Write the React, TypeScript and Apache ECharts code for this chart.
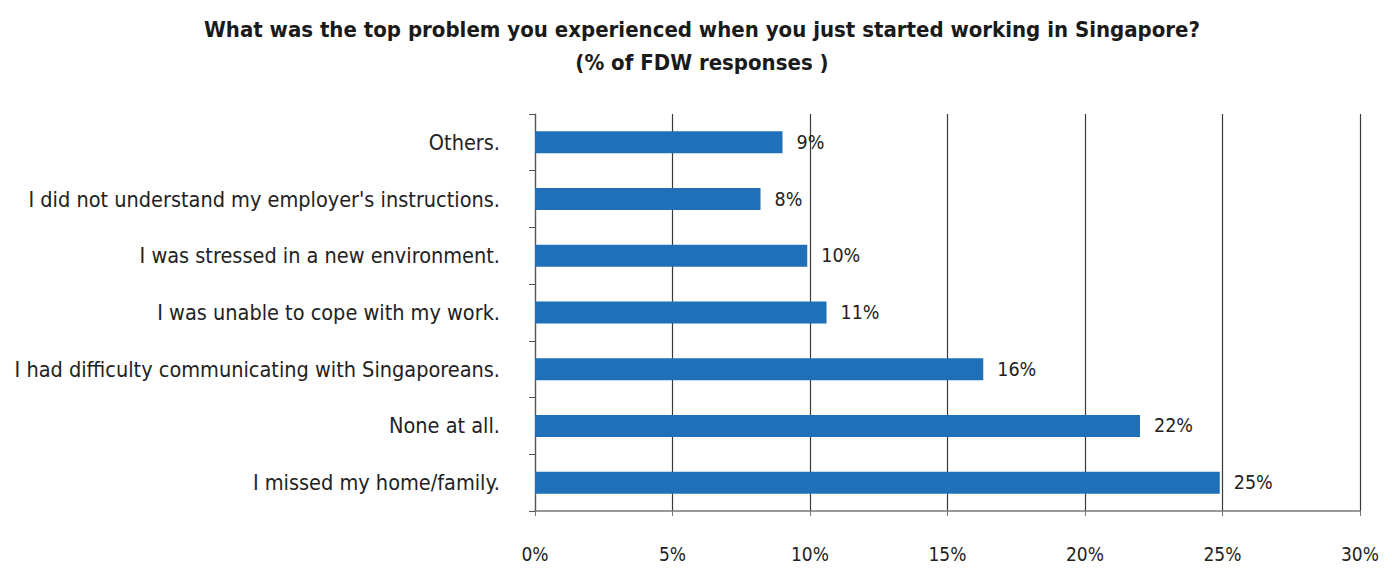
import React, { useEffect, useRef } from "react";
import * as echarts from "echarts";

const categories = [
  "Others.",
  "I did not understand my employer's instructions.",
  "I was stressed in a new environment.",
  "I was unable to cope with my work.",
  "I had difficulty communicating with Singaporeans.",
  "None at all.",
  "I missed my home/family.",
];
const values = [9.0, 8.2, 9.9, 10.6, 16.3, 22.0, 24.9];
const xTicks = [0, 5, 10, 15, 20, 25, 30];

const titleLine1 = "What was the top problem you experienced when you just started working in Singapore?";
const titleLine2 = "(% of FDW responses )";

export default function App() {
  const ref = useRef<HTMLDivElement>(null);
  useEffect(() => {
    if (!ref.current) return;
    const chart = echarts.init(ref.current, null, { renderer: "svg" });
    const font = "'DejaVu Sans Condensed', sans-serif";
    chart.setOption({
      animation: false,
      backgroundColor: "#ffffff",
      title: {
        text: titleLine1 + "\n" + titleLine2,
        left: 697,
        textAlign: "center",
        top: 8,
        textStyle: {
          fontFamily: font,
          fontWeight: "bold",
          fontSize: 22,
          lineHeight: 33,
          color: "#1a1a1a",
        },
      },
      grid: { left: 535, right: 32, top: 114, bottom: 60, containLabel: false },
      xAxis: {
        type: "value",
        min: xTicks[0],
        max: xTicks[xTicks.length - 1],
        interval: 5,
        axisLine: { show: true, lineStyle: { color: "#777", width: 1.5 } },
        axisTick: { show: true, length: 5, lineStyle: { color: "#777" } },
        splitLine: { show: true, lineStyle: { color: "#3a3a3a", width: 1.2 } },
        axisLabel: {
          formatter: "{value}%",
          margin: 33,
          fontFamily: font,
          fontSize: 19,
          color: "#222",
        },
      },
      yAxis: {
        type: "category",
        inverse: true,
        data: categories,
        axisLine: { show: true, lineStyle: { color: "#555", width: 1.2 } },
        axisTick: { show: true, length: 6, alignWithLabel: false, lineStyle: { color: "#555" } },
        axisLabel: {
          margin: 35,
          fontFamily: font,
          fontSize: 21.5,
          color: "#222",
        },
      },
      series: [
        {
          type: "bar",
          data: values,
          barWidth: 22,
          itemStyle: { color: "#1f70b8" },
          label: {
            show: true,
            position: "right",
            distance: 14,
            fontFamily: font,
            fontSize: 19.5,
            color: "#222",
            formatter: (p: any) => Math.round(p.value) + "%",
          },
        },
      ],
    });
    return () => chart.dispose();
  }, []);
  return (
    <div
      ref={ref}
      style={{ position: "fixed", left: 0, top: 0, width: 1392, height: 571 }}
    />
  );
}
